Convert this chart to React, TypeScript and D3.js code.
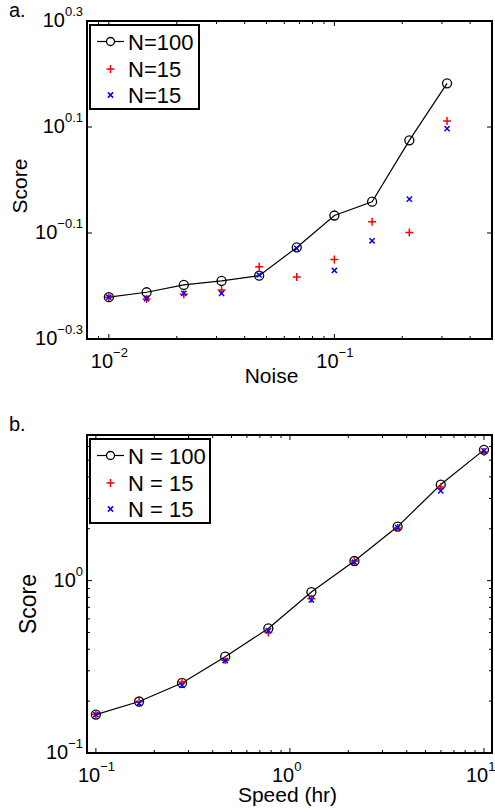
import React, { useEffect, useRef } from 'react';
import * as d3 from 'd3';

// panel a: score vs noise
const noiseX = [0.01, 0.0147, 0.0215, 0.0316, 0.0464, 0.0681, 0.1, 0.147, 0.215, 0.316];
const noiseN100 = [0.601, 0.614, 0.634, 0.645, 0.66, 0.746, 0.857, 0.91, 1.188, 1.522];
const noiseN15a = [0.601, 0.596, 0.609, 0.62, 0.686, 0.656, 0.708, 0.834, 0.796, 1.292];
const noiseN15b = [0.601, 0.597, 0.611, 0.611, 0.662, 0.743, 0.675, 0.768, 0.92, 1.25];
const noiseXExp = ['-2', '-1'];
const noiseYExp = ['-0.3', '-0.1', '0.1', '0.3'];
const noiseLegend = ['N=100', 'N=15', 'N=15'];

// panel b: score vs speed
const speedX = [0.1, 0.167, 0.278, 0.464, 0.774, 1.29, 2.15, 3.59, 5.99, 10];
const speedN100 = [0.167, 0.199, 0.255, 0.362, 0.528, 0.859, 1.3, 2.06, 3.61, 5.74];
const speedN15a = [0.167, 0.198, 0.258, 0.347, 0.501, 0.786, 1.3, 2.02, 3.49, 5.57];
const speedN15b = [0.167, 0.194, 0.247, 0.344, 0.512, 0.774, 1.28, 2.03, 3.32, 5.67];
const speedXExp = ['-1', '0', '1'];
const speedYExp = ['-1', '0'];
const speedLegend = ['N = 100', 'N = 15', 'N = 15'];

const FONT = "'Liberation Sans', Arial, Helvetica, sans-serif";

function minorTicks(domain) {
  const out = [];
  const lo = Math.floor(Math.log10(domain[0]));
  const hi = Math.ceil(Math.log10(domain[1]));
  for (let d = lo; d <= hi; d++) {
    for (let k = 2; k <= 9; k++) {
      const v = k * Math.pow(10, d);
      if (v >= domain[0] * 0.999 && v <= domain[1] * 1.001) out.push(v);
    }
  }
  return out;
}

function expLabel(sel, exp) {
  sel.append('tspan').text('10');
  sel.append('tspan')
    .attr('font-size', 13)
    .attr('dy', -11)
    .text(exp.replace('-', '\u2212'));
}

function drawPanel(svg, cfg) {
  const { left, right, top, bottom } = cfg.box;
  const x = d3.scaleLog().domain(cfg.xDomain).range([left, right]);
  const y = d3.scaleLog().domain(cfg.yDomain).range([bottom, top]);
  const g = svg.append('g');

  // ticks on all four sides, pointing inward
  const tk = g.append('g').attr('stroke', '#000').attr('stroke-width', 1);
  const xMajor = cfg.xExp.map(e => Math.pow(10, +e));
  const yMajor = cfg.yExp.map(e => Math.pow(10, +e));
  xMajor.forEach(v => {
    tk.append('line').attr('x1', x(v)).attr('x2', x(v)).attr('y1', bottom).attr('y2', bottom - 5);
    tk.append('line').attr('x1', x(v)).attr('x2', x(v)).attr('y1', top).attr('y2', top + 5);
  });
  minorTicks(cfg.xDomain).forEach(v => {
    tk.append('line').attr('x1', x(v)).attr('x2', x(v)).attr('y1', bottom).attr('y2', bottom - 3);
    tk.append('line').attr('x1', x(v)).attr('x2', x(v)).attr('y1', top).attr('y2', top + 3);
  });
  yMajor.forEach(v => {
    tk.append('line').attr('y1', y(v)).attr('y2', y(v)).attr('x1', left).attr('x2', left + 5);
    tk.append('line').attr('y1', y(v)).attr('y2', y(v)).attr('x1', right).attr('x2', right - 5);
  });
  if (cfg.yMinor) {
    minorTicks(cfg.yDomain).forEach(v => {
      tk.append('line').attr('y1', y(v)).attr('y2', y(v)).attr('x1', left).attr('x2', left + 3);
      tk.append('line').attr('y1', y(v)).attr('y2', y(v)).attr('x1', right).attr('x2', right - 3);
    });
  }

  g.append('rect')
    .attr('x', left).attr('y', top)
    .attr('width', right - left).attr('height', bottom - top)
    .attr('fill', 'none').attr('stroke', '#000').attr('stroke-width', 2);

  // tick labels
  const lab = g.append('g').attr('font-family', FONT).attr('font-size', 20).attr('fill', '#000');
  cfg.xExp.forEach(e => {
    const t = lab.append('text').attr('x', x(Math.pow(10, +e)) - 18).attr('y', bottom + 29);
    expLabel(t, e);
  });
  cfg.yExp.forEach(e => {
    const t = lab.append('text').attr('x', left - 4).attr('y', y(Math.pow(10, +e)) + 6)
      .attr('text-anchor', 'end');
    expLabel(t, e);
  });

  lab.append('text')
    .attr('x', (left + right) / 2 + cfg.xLabelShift).attr('y', bottom + cfg.xLabelDy)
    .attr('font-size', 21)
    .attr('text-anchor', 'middle').text(cfg.xLabel);
  lab.append('text')
    .attr('transform', `translate(${cfg.yLabel.x},${(top + bottom) / 2 + cfg.yLabel.dy}) rotate(-90)`)
    .attr('font-size', cfg.yLabel.size)
    .attr('text-anchor', 'middle').text('Score');
  lab.append('text').attr('x', 9).attr('y', cfg.tagY).text(cfg.tag);

  // series
  const line = d3.line().x(d => x(d[0])).y(d => y(d[1]));
  const main = cfg.xs.map((v, i) => [v, cfg.s0[i]]);
  g.append('path').attr('d', line(main)).attr('fill', 'none').attr('stroke', '#000').attr('stroke-width', 1.2);
  g.selectAll('circle.m').data(main).join('circle')
    .attr('cx', d => x(d[0])).attr('cy', d => y(d[1])).attr('r', 4.5)
    .attr('fill', 'none').attr('stroke', '#000').attr('stroke-width', 1.3);

  const plus = (sel, cx, cy, s) => sel.append('path')
    .attr('d', `M${cx - s},${cy}H${cx + s}M${cx},${cy - s}V${cy + s}`)
    .attr('stroke', '#ff0000').attr('stroke-width', 1.5).attr('fill', 'none');
  const cross = (sel, cx, cy, s) => sel.append('path')
    .attr('d', `M${cx - s},${cy - s}L${cx + s},${cy + s}M${cx - s},${cy + s}L${cx + s},${cy - s}`)
    .attr('stroke', '#0000ff').attr('stroke-width', 1.5).attr('fill', 'none');

  cfg.xs.forEach((v, i) => plus(g, x(v), y(cfg.s1[i]), 4));
  cfg.xs.forEach((v, i) => cross(g, x(v), y(cfg.s2[i]), 2.6));

  // legend
  const L = cfg.legend;
  const lg = g.append('g');
  lg.append('rect').attr('x', L.x).attr('y', L.y).attr('width', L.w).attr('height', L.h)
    .attr('fill', '#fff').attr('stroke', '#000').attr('stroke-width', 2);
  const rows = [L.y + 16.5, L.y + 44, L.y + 70];
  lg.append('line').attr('x1', L.x + 7).attr('x2', L.x + 34).attr('y1', rows[0]).attr('y2', rows[0])
    .attr('stroke', '#000').attr('stroke-width', 1.2);
  lg.append('circle').attr('cx', L.x + 20.5).attr('cy', rows[0]).attr('r', 4)
    .attr('fill', '#fff').attr('stroke', '#000').attr('stroke-width', 1.3);
  plus(lg, L.x + 20.5, rows[1], 4);
  cross(lg, L.x + 20.5, rows[2], 2.6);
  cfg.labels.forEach((t, i) => {
    lg.append('text').attr('x', L.x + 38).attr('y', rows[i] + 8)
      .attr('font-family', FONT).attr('font-size', 22).text(t);
  });
}

const App = () => {
  const domref = useRef(null);
  useEffect(() => {
    d3.select(domref.current).selectAll('*').remove();
    const svg = d3.select(domref.current);

    drawPanel(svg, {
      box: { left: 87, right: 492, top: 21, bottom: 339 },
      xDomain: [0.008, 0.5], yDomain: [Math.pow(10, -0.3), Math.pow(10, 0.3)],
      xExp: noiseXExp, yExp: noiseYExp, yMinor: false,
      xs: noiseX, s0: noiseN100, s1: noiseN15a, s2: noiseN15b,
      xLabel: 'Noise', xLabelShift: -18, xLabelDy: 44,
      yLabel: { x: 27, dy: 6, size: 21 },
      tag: 'a.', tagY: 17,
      legend: { x: 90, y: 25, w: 109, h: 84 }, labels: noiseLegend,
    });
    drawPanel(svg, {
      box: { left: 87, right: 492, top: 435, bottom: 753 },
      xDomain: [0.09, 11], yDomain: [0.1, 7],
      xExp: speedXExp, yExp: speedYExp, yMinor: true,
      xs: speedX, s0: speedN100, s1: speedN15a, s2: speedN15b,
      xLabel: 'Speed (hr)', xLabelShift: -2, xLabelDy: 49,
      yLabel: { x: 36, dy: 10, size: 23 },
      tag: 'b.', tagY: 431,
      legend: { x: 90, y: 439, w: 120, h: 84 }, labels: speedLegend,
    });
  }, []);
  return (
    <svg ref={domref} width={495} height={810}
      style={{ position: 'absolute', left: 0, top: 0, background: '#fff' }} />
  );
};

export default App;
